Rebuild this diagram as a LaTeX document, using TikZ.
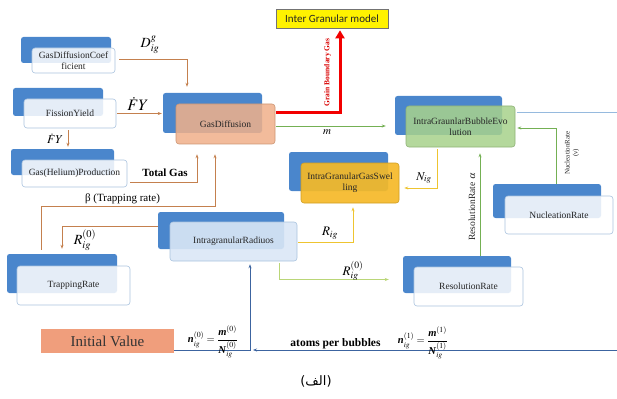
\documentclass[tikz,border=0pt]{standalone}
\usepackage{amsmath}
\usepackage{mathptmx}
\usepackage{fontspec}
\setmainfont{Liberation Serif}
\newfontfamily\calib{Carlito}
\newfontfamily\djv{DejaVu Sans}
\newfontfamily\arabicfont[Script=Arabic]{DejaVu Sans}
\TeXXeTstate=1
\usetikzlibrary{arrows.meta,calc}

\definecolor{backblue}{RGB}{74,134,204}
\definecolor{frontline}{RGB}{170,195,222}
\definecolor{peach}{RGB}{240,176,138}
\definecolor{bubgreen}{RGB}{168,210,140}
\definecolor{swgold}{RGB}{245,185,40}
\definecolor{radblue}{RGB}{218,231,246}
\definecolor{brn}{RGB}{196,128,78}
\definecolor{lnk}{RGB}{116,176,84}
\definecolor{ylw}{RGB}{238,196,48}
\definecolor{lgreen}{RGB}{186,214,120}
\definecolor{dblue}{RGB}{60,100,160}
\definecolor{lblue}{RGB}{150,186,222}
\definecolor{ivsalmon}{RGB}{240,158,124}

\newcommand{\bi}[1]{\textbf{\textit{#1}}}

\begin{document}
\begin{tikzpicture}[x=1pt,y=-1pt,
  back/.style={fill=backblue, rounded corners=2.5pt, inner sep=0pt},
  front/.style={draw=frontline, line width=0.6pt, rounded corners=3pt, fill=white,
    fill opacity=0.86, text opacity=1, align=center, inner sep=1pt,
    font=\rmfamily\fontsize{9.5}{11}\selectfont, text=black!85},
  con/.style={line width=0.9pt, -{Stealth[length=4pt,width=3pt]}},
  lab/.style={inner sep=0pt},
]
\useasboundingbox (0,0) rectangle (617,398);

% ---- back rectangles ----
\node[back, minimum width=90pt, minimum height=26pt] (gdcb) at (66,50) {};
\node[back, minimum width=90pt, minimum height=28pt] (fyb) at (58,102) {};
\node[back, minimum width=103pt, minimum height=26pt] (ghb) at (62.5,162) {};
\node[back, minimum width=99pt, minimum height=40pt] (gdb) at (212.5,113) {};
\node[back, minimum width=107pt, minimum height=39pt] (bubb) at (448.5,115.5) {};
\node[back, minimum width=99pt, minimum height=39pt] (swb) at (338.5,171.5) {};
\node[back, minimum width=126pt, minimum height=37pt] (radb) at (221,230.5) {};
\node[back, minimum width=110pt, minimum height=39pt] (trb) at (62,273.5) {};
\node[back, minimum width=108pt, minimum height=34pt] (nucb) at (547,201) {};
\node[back, minimum width=108pt, minimum height=37pt] (resb) at (457,274.5) {};

% ---- front boxes ----
\node[front, minimum width=83pt, minimum height=25pt] (gdc) at (73.5,60.5) {GasDiffusionCoef\\ficient};
\node[front, minimum width=92pt, minimum height=29pt] (fy) at (70,113.5) {FissionYield};
\node[front, minimum width=105pt, minimum height=27pt] (ghp) at (74.5,173.5) {Gas(Helium)Production};
\node[front, fill=peach, draw=peach!85!black, minimum width=99pt, minimum height=40pt] (gd) at (225.5,124) {GasDiffusion};
\node[front, fill=bubgreen, draw=bubgreen!85!black, minimum width=109pt, minimum height=41pt] (bub) at (460.5,126.5) {IntraGraunlarBubbleEvo\\lution};
\node[front, fill=swgold, draw=swgold!85!black, fill opacity=0.92, minimum width=98pt, minimum height=40pt] (sw) at (350,183) {IntraGranularGasSwel\\ling};
\node[front, fill=radblue, fill opacity=0.9, minimum width=127pt, minimum height=39pt] (rad) at (233.5,241.5) {IntragranularRadiuos};
\node[front, minimum width=113pt, minimum height=39pt] (tr) at (73.5,285.5) {TrappingRate};
\node[front, minimum width=108pt, minimum height=38pt] (nuc) at (559,215) {NucleationRate};
\node[front, minimum width=109pt, minimum height=39pt] (res) at (468.5,286.5) {ResolutionRate};

\node[draw=black!55, line width=0.6pt, fill=yellow, minimum width=112pt, minimum height=19pt, inner sep=0pt,
  font=\calib\fontsize{11}{11}\selectfont, text=black!85] (igm) at (332,18.5) {Inter Granular model};
\node[fill=ivsalmon, minimum width=133pt, minimum height=24pt, inner sep=0pt,
  font=\rmfamily\fontsize{15}{15}\selectfont, text=black!80] (iv) at (107.5,341) {Initial Value};

% ---- connectors ----
\draw[con,brn] ($(gdc.east)+(4,-1.5)$) -| ($(gdb.north)+(-25.5,-6)$);
\draw[con,brn] ($(fy.east)+(1,0)$) -- ($(fy.east -| gdb.west)+(-1,0)$);
\draw[con,brn] ($(fy.south)+(-2,2)$) -- ($(fy.south |- ghb.north)+(-2,-2)$);
\draw[con,brn] ($(ghp.east)+(3,8.5)$) -| ($(gd.south)+(-28.5,10)$);
\draw[con,brn] ($(trb.north)+(-21,-4)$) |- ($(gd.south)+(-10.5,62)$) -- ($(gd.south)+(-10.5,10)$);
\draw[con,brn] ($(radb.west)+(0,-4.5)$) -| ($(trb.north)+(0,-5)$);

\draw[line width=3pt, red!95!black, -{Triangle[length=8pt,width=9pt]}]
  ($(gd.east)+(1,-11)$) -| ($(igm.south)+(8,2)$);
\draw[con,lnk] ($(gd.east)+(1,2)$) -- ($(gd.east -| bubb.west)+(-9,2)$);

\draw[con,ylw] ($(bub.south)+(-23.5,2)$) |- ($(sw.east)+(5,5)$);
\draw[con,lnk] ($(resb.north)+(23,0)$) -- ($(bub.south)+(19.5,6)$);
\draw[con,lnk] ($(nucb.north)+(9,0)$) |- ($(bub.east)+(2,1.5)$);

\coordinate (re1) at (617,112);
\coordinate (re2) at (617,350);
\draw[lblue, line width=0.9pt] ($(bub.east)+(2,-14.5)$) -- (re1);
\coordinate (jn) at ($(iv.east -| rad.south)+(16.5,9)$);
\draw[con,dblue] (re2) -- ($(jn)+(3,0)$);
\draw[con,dblue] ($(iv.east)+(0,9)$) -| ($(rad.south)+(16.5,3)$);

\draw[con,ylw] ($(rad.east)+(1,0.5)$) -| ($(sw.south)+(3,4)$);
\draw[con,lgreen] ($(rad.south)+(45.5,2)$) |- ($(resb.west)+(-14,5)$);

% ---- labels ----
\node[lab, font=\fontsize{14}{14}\selectfont] (lD) at (150,45) {$D_{ig}^{g}$};
\node[lab, font=\fontsize{16}{16}\selectfont] (lfy1) at (138,104) {$\dot{F}Y$};
\node[lab, font=\fontsize{12}{12}\selectfont] (lfy2) at (55,139) {$\dot{F}Y$};
\node[lab, font=\rmfamily\bfseries\fontsize{11}{11}\selectfont] (ltg) at (165,172.5) {Total Gas};
\node[lab, font=\rmfamily\fontsize{11}{11}\selectfont] (lbeta) at (122.5,199) {β (Trapping rate)};
\node[lab, font=\fontsize{14}{14}\selectfont] (lR0a) at (85,240) {$R_{ig}^{(0)}$};
\node[lab, rotate=90, text=red!85!black, font=\rmfamily\bfseries\fontsize{7.5}{7.5}\selectfont] (lgb) at (327.5,72.5) {Grain Boundary Gas};
\node[lab, font=\fontsize{11}{11}\selectfont] (lm) at (327,132) {$m$};
\node[lab, font=\fontsize{12}{12}\selectfont] (lN) at (424,178) {$N_{ig}$};
\node[lab, rotate=90, font=\rmfamily\fontsize{9.5}{9.5}\selectfont, text=black!85] (lres) at (472,207) {ResolutionRate $\alpha$};
\node[lab, rotate=90, align=center, font=\rmfamily\fontsize{7}{8}\selectfont, text=black!85] (lnuc) at (572,153) {NucleationRate\\(ν)};
\node[lab, font=\fontsize{13}{13}\selectfont] (lRig) at (330,233) {$R_{ig}$};
\node[lab, font=\fontsize{13}{13}\selectfont] (lR0b) at (353,271) {$R_{ig}^{(0)}$};
\node[lab, font=\fontsize{10.5}{10.5}\selectfont] (ln0) at (213,342) {$\bi{n}_{ig}^{(0)}=\dfrac{\bi{m}^{(0)}}{\bi{N}_{ig}^{(0)}}$};
\node[lab, font=\rmfamily\bfseries\fontsize{11.5}{11.5}\selectfont] (lapb) at (335.5,344) {atoms per bubbles};
\node[lab, font=\fontsize{10.5}{10.5}\selectfont] (ln1) at (423,343) {$\bi{n}_{ig}^{(1)}=\dfrac{\bi{m}^{(1)}}{\bi{N}_{ig}^{(1)}}$};
\node[lab, font=\fontsize{13}{13}\selectfont] (cap) at (316,381) {\djv(\arabicfont\beginR الف\endR\djv)};
\end{tikzpicture}
\end{document}
